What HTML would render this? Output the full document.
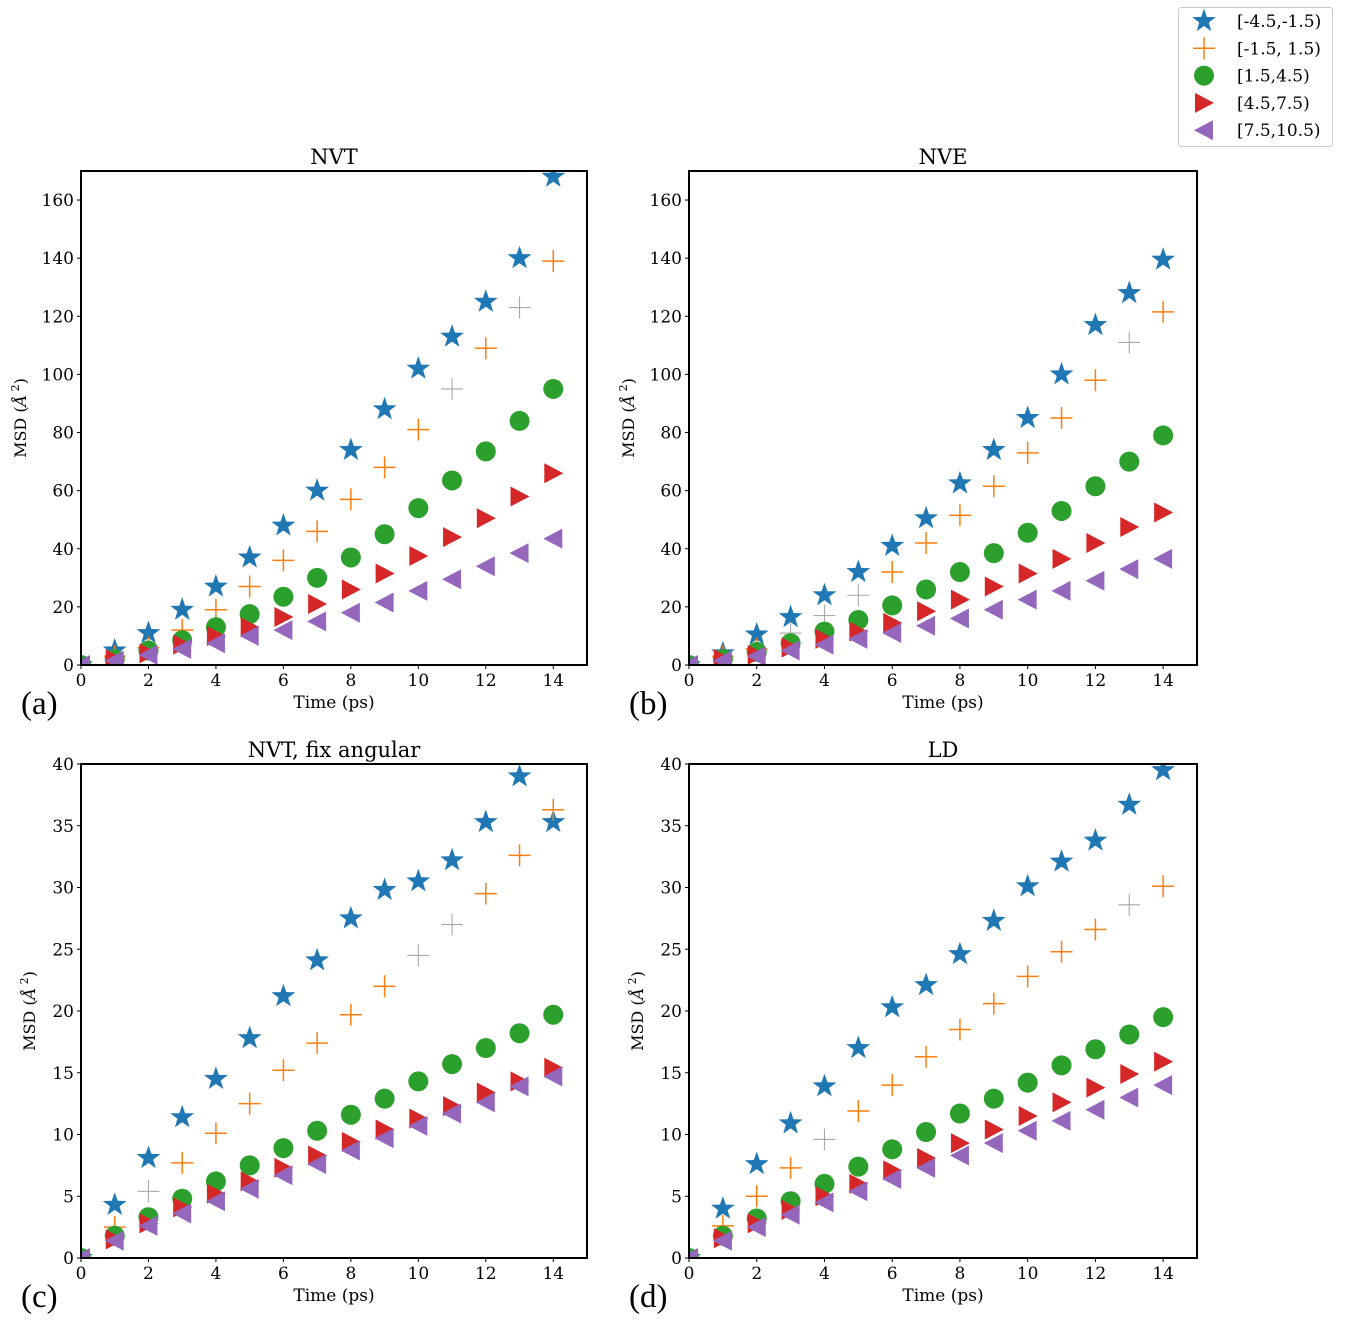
<!DOCTYPE html>
<html><head><meta charset="utf-8"><style>
body{margin:0;background:#fff;}
svg text{font-family:"DejaVu Serif","Liberation Serif",serif;fill:#000;}
</style></head><body>
<svg id="chart" width="1345" height="1330" viewBox="0 0 1345 1330" xmlns="http://www.w3.org/2000/svg"></svg>
<script>
const xValues=[0,1,2,3,4,5,6,7,8,9,10,11,12,13,14];
const seriesLabels=["[-4.5,-1.5)","[-1.5, 1.5)","[1.5,4.5)","[4.5,7.5)","[7.5,10.5)"];
const panelTitles=["NVT","NVE","NVT, fix angular","LD"];
const panelTags=["(a)","(b)","(c)","(d)"];
const yMaxTop=170, yMaxBottom=40;
const yTicksTop=[0,20,40,60,80,100,120,140,160];
const yTicksBottom=[0,5,10,15,20,25,30,35,40];
const xTicks=[0,2,4,6,8,10,12,14];
const aStar=[0,5,11,19,27,37,48,60,74,88,102,113,125,140,168];
const aPlus=[0,3,6,12,19,27,36,46,57,68,81,95,109,123,139];
const aCircle=[0,2,5,8.5,13,17.5,23.5,30,37,45,54,63.5,73.5,84,95];
const aRight=[0,2,4,7,10,13,16.5,21,26,31.5,37.5,44,50.5,58,66];
const aLeft=[0,1.5,3.5,5.5,7.5,10,12,15,18,21.5,25.5,29.5,34,38.5,43.5];
const bStar=[0,4,10.5,16.5,24,32,41,50.5,62.5,74,85,100,117,128,139.5];
const bPlus=[0,3,5.5,11,17,24,32,42,51.5,61.5,73,85,98,111,121.5];
const bCircle=[0,2,4.5,7.5,11.5,15.5,20.5,26,32,38.5,45.5,53,61.5,70,79];
const bRight=[0,2,3.5,6,9,11.5,14.5,18.5,22.5,27,31.5,36.5,42,47.5,52.5];
const bLeft=[0,1.5,3,5,7,9,11,13.5,16,19,22.5,25.5,29,33,36.5];
const cStar=[0,4.3,8.1,11.4,14.5,17.8,21.2,24.1,27.5,29.8,30.5,32.2,35.3,39,35.3];
const cPlus=[0,2.5,5.4,7.7,10.1,12.5,15.2,17.4,19.7,22,24.5,27,29.5,32.6,36.3];
const cCircle=[0,1.8,3.3,4.8,6.2,7.5,8.9,10.3,11.6,12.9,14.3,15.7,17,18.2,19.7];
const cRight=[0,1.5,2.8,4.1,5.2,6.2,7.3,8.3,9.4,10.4,11.3,12.3,13.4,14.3,15.4];
const cLeft=[0,1.4,2.6,3.6,4.6,5.6,6.7,7.6,8.7,9.7,10.7,11.7,12.6,13.9,14.7];
const dStar=[0,4,7.6,10.9,13.9,17,20.3,22.1,24.6,27.3,30.1,32.1,33.8,36.7,39.5];
const dPlus=[0,2.6,5,7.3,9.6,11.9,14,16.3,18.5,20.6,22.8,24.8,26.6,28.6,30.1];
const dCircle=[0,1.8,3.2,4.6,6,7.4,8.8,10.2,11.7,12.9,14.2,15.6,16.9,18.1,19.5];
const dRight=[0,1.6,2.8,3.9,5,6,7.1,8.1,9.3,10.4,11.5,12.6,13.8,14.9,15.9];
const dLeft=[0,1.4,2.5,3.5,4.5,5.4,6.4,7.3,8.3,9.3,10.3,11.1,12,13,14];
const grayPlusIdx=[[11,13],[3,4,5,13],[2,10,11],[4,13]];

const colors=["#1f77b4","#ff7f0e","#2ca02c","#d62728","#9467bd"];
const NS="http://www.w3.org/2000/svg";
const svg=document.getElementById('chart');
function mk(tag,attrs,parent){const e=document.createElementNS(NS,tag);for(const k in attrs)e.setAttribute(k,attrs[k]);(parent||svg).appendChild(e);return e;}
function starPts(cx,cy,R){const r=R*0.4;let p=[];for(let i=0;i<10;i++){const a=-Math.PI/2+i*Math.PI/5;const rr=i%2?r:R;p.push((cx+rr*Math.cos(a)).toFixed(1)+','+(cy+rr*Math.sin(a)).toFixed(1));}return p.join(' ');}
function marker(g,type,cx,cy,color,sw){
  let e;
  if(type===0){e=mk('polygon',{points:starPts(cx,cy,12.5),fill:color},g);}
  else if(type===1){e=mk('path',{d:`M${cx-11},${cy}H${cx+11}M${cx},${cy-11}V${cy+11}`,stroke:color,'stroke-width':sw||1.5,fill:'none'},g);}
  else if(type===2){e=mk('circle',{cx:cx,cy:cy,r:10,fill:color},g);}
  else if(type===3){e=mk('polygon',{points:`${cx-9},${cy-10} ${cx+10},${cy} ${cx-9},${cy+10}`,fill:color},g);}
  else {e=mk('polygon',{points:`${cx+9},${cy-10} ${cx-10},${cy} ${cx+9},${cy+10}`,fill:color},g);}
  return e;
}
const panels=[
 {x0:81,x1:587,y0:171,y1:665,ymax:yMaxTop,ticks:yTicksTop,data:[aStar,aPlus,aCircle,aRight,aLeft]},
 {x0:689,x1:1197,y0:171,y1:665,ymax:yMaxTop,ticks:yTicksTop,data:[bStar,bPlus,bCircle,bRight,bLeft]},
 {x0:81,x1:587,y0:764,y1:1258,ymax:yMaxBottom,ticks:yTicksBottom,data:[cStar,cPlus,cCircle,cRight,cLeft]},
 {x0:689,x1:1197,y0:764,y1:1258,ymax:yMaxBottom,ticks:yTicksBottom,data:[dStar,dPlus,dCircle,dRight,dLeft]}
];
panels.forEach((p,pi)=>{
  const g=mk('g',{});
  
  
  const xs=v=>p.x0+(v/15)*(p.x1-p.x0);
  const ys=v=>p.y1-(v/p.ymax)*(p.y1-p.y0);
  const clip='clip'+pi;
  const cp=mk('clipPath',{id:clip},g);mk('rect',{x:p.x0,y:p.y0,width:p.x1-p.x0,height:p.y1-p.y0},cp);
  const mg=mk('g',{'clip-path':`url(#${clip})`},g);
  p.data.forEach((arr,si)=>{
    arr.forEach((v,i)=>{
      let col=colors[si], sw=1.5;
      if(si===1&&grayPlusIdx[pi].includes(i)){col="#a8a8a8";sw=1.1;}
      const m=marker(mg,si,xs(xValues[i]),ys(v),col,sw);
      
      
    });
  });
  const fr=mk('rect',{x:p.x0,y:p.y0,width:p.x1-p.x0,height:p.y1-p.y0,fill:'none',stroke:'#000','stroke-width':2},g);
  
  
  p.ticks.forEach(t=>{
    const y=ys(t);
    mk('line',{x1:p.x0-4,x2:p.x0,y1:y,y2:y,stroke:'#000','stroke-width':1},g);
    const tx=mk('text',{x:p.x0-7,y:y+6,'text-anchor':'end','font-size':17},g);tx.textContent=t;
    
    
  });
  xTicks.forEach(t=>{
    const x=xs(t);
    mk('line',{x1:x,x2:x,y1:p.y1,y2:p.y1+4,stroke:'#000','stroke-width':1},g);
    const tx=mk('text',{x:x,y:p.y1+21,'text-anchor':'middle','font-size':17},g);tx.textContent=t;
    
    
  });
  const xl=mk('text',{x:(p.x0+p.x1)/2,y:p.y1+43,'text-anchor':'middle','font-size':17},g);xl.textContent='Time (ps)';
  
  
  const cy=(p.y0+p.y1)/2, lx=p.x0-(p.ymax>100?55:46);
  const yl=mk('text',{x:lx,y:cy,'text-anchor':'middle','font-size':16,transform:`rotate(-90 ${lx} ${cy})`},g);
  yl.innerHTML='MSD (<tspan font-style="italic">Å</tspan><tspan dy="-7" font-size="11"> 2</tspan><tspan dy="7">)</tspan>';
  
  
  const ti=mk('text',{x:(p.x0+p.x1)/2,y:p.y0-7,'text-anchor':'middle','font-size':21},g);ti.textContent=panelTitles[pi];
  
  
  const tg=mk('text',{x:p.x0-60,y:p.y1+49,'font-size':33,style:'font-family:"Liberation Serif",serif'},g);tg.textContent=panelTags[pi];
  
  
});
const lg=mk('g',{});


mk('rect',{x:1178.5,y:7.5,width:154,height:139,rx:3,fill:'#fff',stroke:'#ccc','stroke-width':1},lg);
seriesLabels.forEach((s,i)=>{
  const y=21+i*27.3;
  marker(lg,i,1204,y,colors[i]);
  const t=mk('text',{x:1237,y:y+6,'font-size':17},lg);t.textContent=s;
  
  
});
</script>
</body></html>
